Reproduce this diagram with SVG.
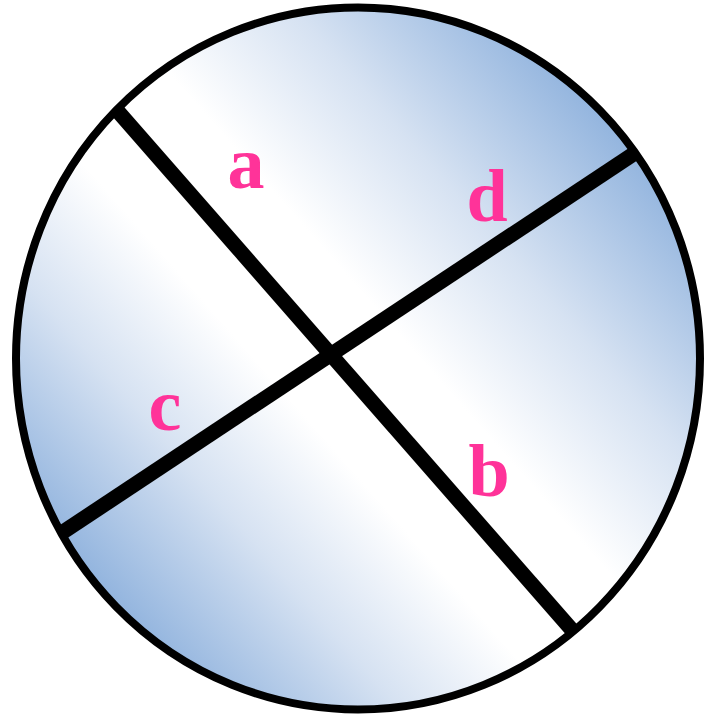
<svg xmlns="http://www.w3.org/2000/svg" width="704" height="717" viewBox="0 0 704 717">
  <defs>
    <linearGradient id="gUR" gradientUnits="userSpaceOnUse" x1="330" y1="356" x2="605" y2="114">
      <stop offset="0" stop-color="#ffffff"/>
      <stop offset="0.18" stop-color="#ffffff"/>
      <stop offset="0.55" stop-color="#d6e2f2"/>
      <stop offset="1" stop-color="#92b4de"/>
    </linearGradient>
    <linearGradient id="gLL" gradientUnits="userSpaceOnUse" x1="330" y1="356" x2="85" y2="571">
      <stop offset="0" stop-color="#ffffff"/>
      <stop offset="0.18" stop-color="#ffffff"/>
      <stop offset="0.55" stop-color="#d6e2f2"/>
      <stop offset="1" stop-color="#92b4de"/>
    </linearGradient>
    <clipPath id="cUR"><polygon points="-69.5,-100 800,-100 800,800 721,800"/></clipPath>
    <clipPath id="cLL"><polygon points="-69.5,-100 721,800 -100,800 -100,-100"/></clipPath>
    <style>
      .chord { stroke: #000; stroke-width: 15; fill: none; }
      .lbl { font-family: "Liberation Serif", "Times New Roman", serif; font-weight: bold; font-size: 74px; fill: #ff3399; text-anchor: middle; }
    </style>
  </defs>
  <g id="disc">
    <ellipse cx="358" cy="358.5" rx="342" ry="351" fill="url(#gUR)" clip-path="url(#cUR)"/>
    <ellipse cx="358" cy="358.5" rx="342" ry="351" fill="url(#gLL)" clip-path="url(#cLL)"/>
    <ellipse cx="358" cy="358.5" rx="342" ry="351" fill="none" stroke="#000" stroke-width="8"/>
  </g>
  <g id="connectors">
    <line class="chord" x1="115" y1="108" x2="572" y2="630"/>
    <line class="chord" x1="635" y1="153" x2="63" y2="532"/>
  </g>
  <g id="label-a"><text class="lbl" x="246" y="188">a</text></g>
  <g id="label-d"><text class="lbl" x="487" y="221">d</text></g>
  <g id="label-c"><text class="lbl" x="165" y="430">c</text></g>
  <g id="label-b"><text class="lbl" x="489" y="496">b</text></g>
</svg>
